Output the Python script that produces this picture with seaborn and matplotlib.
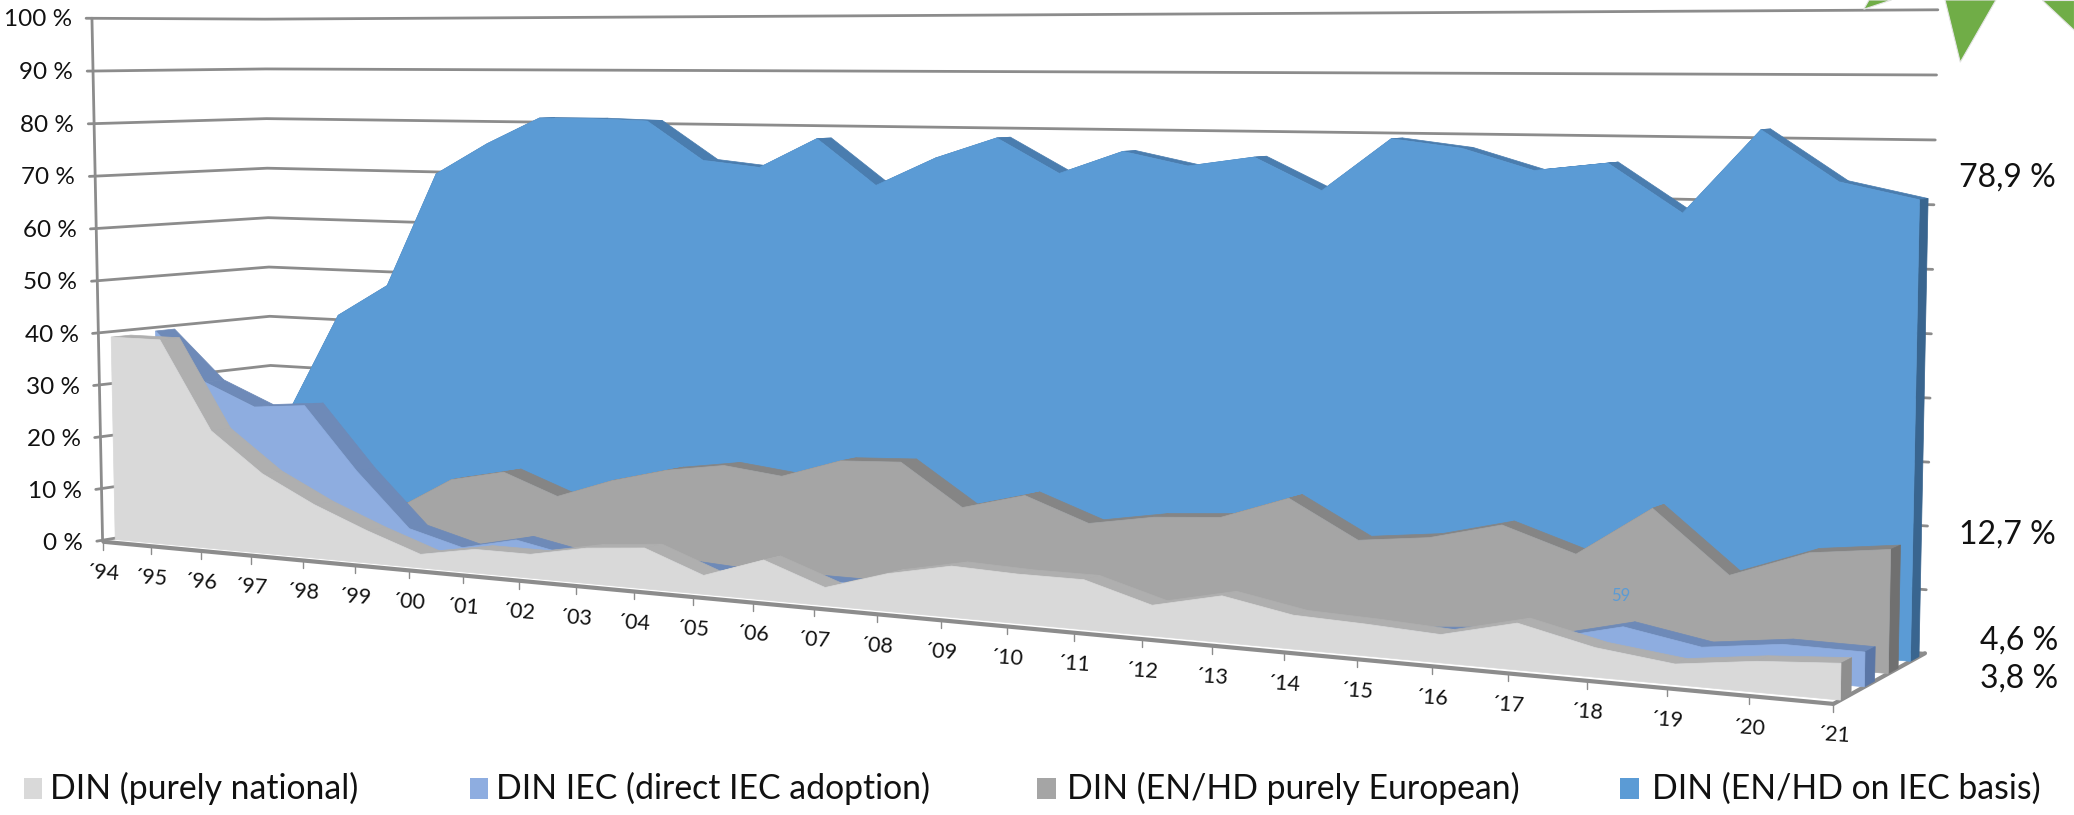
#!/usr/bin/env python3
# 3D look area chart, DIN standards by origin 1994-2021
import numpy as np
import matplotlib
matplotlib.use('Agg')
import matplotlib.pyplot as plt
from matplotlib.patches import Polygon, Rectangle
import seaborn as sns

years = ["´94", "´95", "´96", "´97", "´98", "´99", "´00", "´01", "´02", "´03", "´04", "´05", "´06", "´07",
         "´08", "´09", "´10", "´11", "´12", "´13", "´14", "´15", "´16", "´17", "´18", "´19", "´20", "´21"]
pct_ticks = [0, 10, 20, 30, 40, 50, 60, 70, 80, 90, 100]

din_national = [39.1, 39.1, 22.4, 15.0, 10.0, 6.0, 2.5, 4.3, 4.3, 6.3, 7.2, 3.3, 6.9, 3.1,
                6.4, 8.6, 8.2, 8.2, 5.0, 7.5, 5.4, 5.0, 4.4, 7.2, 4.5, 3.1, 4.6, 5.4]
din_iec = [39.4, 30.0, 25.8, 26.7, 15.0, 4.9, 2.2, 4.5, 2.5, 2.5, 2.5, 1.9, 2.0, 2.0,
           1.5, 1.5, 1.5, 1.5, 1.5, 1.5, 1.5, 2.0, 3.0, 3.0, 5.9, 3.8, 5.3, 5.2]
din_en_eu = [10.0, 10.0, 8.0, 7.0, 6.7, 12.7, 14.9, 11.1, 14.8, 17.5, 19.1, 17.9, 21.4, 21.9,
             14.7, 17.6, 13.6, 15.5, 16.3, 20.3, 14.2, 15.5, 18.4, 14.6, 22.7, 13.1, 17.5, 18.9]
din_en_iec = [10.0, 22.8, 41.7, 48.0, 70.0, 76.0, 81.0, 81.0, 80.7, 73.6, 72.5, 77.9, 69.7, 74.8,
              78.5, 72.5, 76.5, 74.2, 75.9, 70.5, 79.3, 77.9, 74.5, 75.9, 68.2, 81.5, 73.6, 71.1]

series_names = ["DIN (purely national)", "DIN IEC (direct IEC adoption)",
                "DIN (EN/HD purely European)", "DIN (EN/HD on IEC basis)"]
end_labels = ["3,8 %", "4,6 %", "12,7 %", "78,9 %"]

face_colors = ["#D9D9D9", "#8EADE0", "#A5A5A5", "#5B9BD5"]
band_colors = ["#AFAFAF", "#6E8AB8", "#858585", "#4A7DAF"]
side_colors = ["#8E8E8E", "#5A76A6", "#707070", "#39658F"]
depths = [(0.07, 0.18), (0.32, 0.43), (0.58, 0.69), (0.83, 0.93)]

sns.set_theme(style="white")
plt.rcParams['font.family'] = ['Lato', 'DejaVu Sans']

# camera: fit a projective matrix to where the box corners sit in the picture
box_3d = [(0, 0, 0), (0, 1, 0), (1, 0, 0), (1, 0, 1), (1, 1, 1), (0, 0, 1), (0, 1, 1),
          (1, .5, 1), (0, .5, 0), (13 / 27, 0, 0)]
box_2d = [(78.6, 408), (68, 15), (1386, 533), (1455, 495), (1465, 7), (205, 388), (202, 14),
          (1460, 251), (73, 213), (617, 459)]
A, b = [], []
for (u, v, w), (x, y) in zip(box_3d, box_2d):
    A.append([u, v, w, 1, 0, 0, 0, 0, -x * u, -x * v, -x * w])
    b.append(x)
    A.append([0, 0, 0, 0, u, v, w, 1, -y * u, -y * v, -y * w])
    b.append(y)
cam = np.append(np.linalg.lstsq(np.array(A, float), np.array(b, float), rcond=None)[0], 1).reshape(3, 4)


def project(i, val, w):
    i, val, w = np.broadcast_arrays(np.asarray(i, float), np.asarray(val, float), np.asarray(w, float))
    p = np.stack([i / (len(years) - 1), val / 100, w, np.ones_like(i)])
    q = cam @ p.reshape(4, -1)
    return q[0] / q[2], q[1] / q[2]


fig = plt.figure(figsize=(20.74, 8.15), dpi=100)
ax = fig.add_axes([0, 0, 1, 1])
ax.set_xlim(0, 1568)
ax.set_ylim(616, 0)
ax.axis('off')

grid_col = "#8C8C8C"

# walls
last = len(years) - 1
for p in pct_ticks:
    gx, gy = project([-0.12, 0, last], p, [0, 1, 1])
    sns.lineplot(x=gx, y=gy, sort=False, estimator=None, color=grid_col, linewidth=2, ax=ax, legend=False, zorder=1)
    tx, ty = project(0, p, 0)
    ax.text(tx[0] - 15, ty[0] + 1, f"{p} %", ha='right', va='center', fontsize=17.5, color='#111111')

lx, ly = project([0, 0], [0, 100], [0, 0])
ax.plot(lx, ly, color=grid_col, lw=2, zorder=1)
fx, fy = project([last, last], 0, [0, 1])
ax.plot(fx, fy, color=grid_col, lw=3, zorder=1)

# back to front
all_series = [din_national, din_iec, din_en_eu, din_en_iec]
idx = np.arange(len(years))
z = 3
for k in [3, 2, 1, 0]:
    vals = np.array(all_series[k])
    w0, w1 = depths[k]
    for i in range(last):
        xa, ya = project([i, i + 1, i + 1, i], [vals[i], vals[i + 1], vals[i + 1], vals[i]], [w0, w0, w1, w1])
        ax.add_patch(Polygon(np.c_[xa, ya], closed=True, fc=band_colors[k], ec=band_colors[k], lw=0.5, zorder=z))
    xs, ys = project([last, last, last, last], [0, vals[-1], vals[-1], 0], [w0, w0, w1, w1])
    ax.add_patch(Polygon(np.c_[xs, ys], closed=True, fc=side_colors[k], ec=side_colors[k], lw=0.5, zorder=z))
    xt, yt = project(idx, vals, w0)
    xb, yb = project(idx[::-1], 0, w0)
    ax.add_patch(Polygon(np.c_[np.r_[xt, xb], np.r_[yt, yb]], closed=True, fc=face_colors[k], ec=face_colors[k],
                         lw=0.5, zorder=z + 1))
    z += 2

# front axis
ax_x, ax_y = project([0, last], 0, 0)
ax.plot(ax_x, ax_y, color=grid_col, lw=3, solid_capstyle='butt', zorder=20)
for i, lab in enumerate(years):
    tx, ty = project(i, 0, 0)
    ax.plot([tx[0], tx[0]], [ty[0], ty[0] + 6], color=grid_col, lw=1, zorder=20)
    ax.text(tx[0], ty[0] + 24, lab, ha='center', va='center', rotation=-4, fontsize=15.5, color='#111111')

# stray label from the source slide
ax.text(1225, 450.6, "59", color=face_colors[3], fontsize=12, ha='center', va='center', zorder=21)

# values at the right
for lab, lx_, ly_ in zip(end_labels[::-1], [1554, 1554, 1556, 1556], [134, 404, 484, 513]):
    ax.text(lx_, ly_, lab, ha='right', va='center', fontsize=23, color='#111111')

# legend
for name, col, sx, tx in zip(series_names, face_colors, [18, 355, 784, 1225], [38, 375, 807, 1249]):
    ax.add_patch(Rectangle((sx, 588), 14, 16, fc=col, ec='none'))
    ax.text(tx, 596, name, ha='left', va='center', fontsize=24.3, color='#111111')

# corner of the green shape from the slide
for tri in [[(1409, 7), (1413, 0), (1430, 0)], [(1470.5, 0), (1509, 0), (1482, 47)], [(1544, 0), (1568, 0), (1568, 23)]]:
    ax.add_patch(Polygon(tri, closed=True, fc="#70AD47", ec='#E4E4E4', lw=0.8))

fig.savefig('out.png', dpi=100)
